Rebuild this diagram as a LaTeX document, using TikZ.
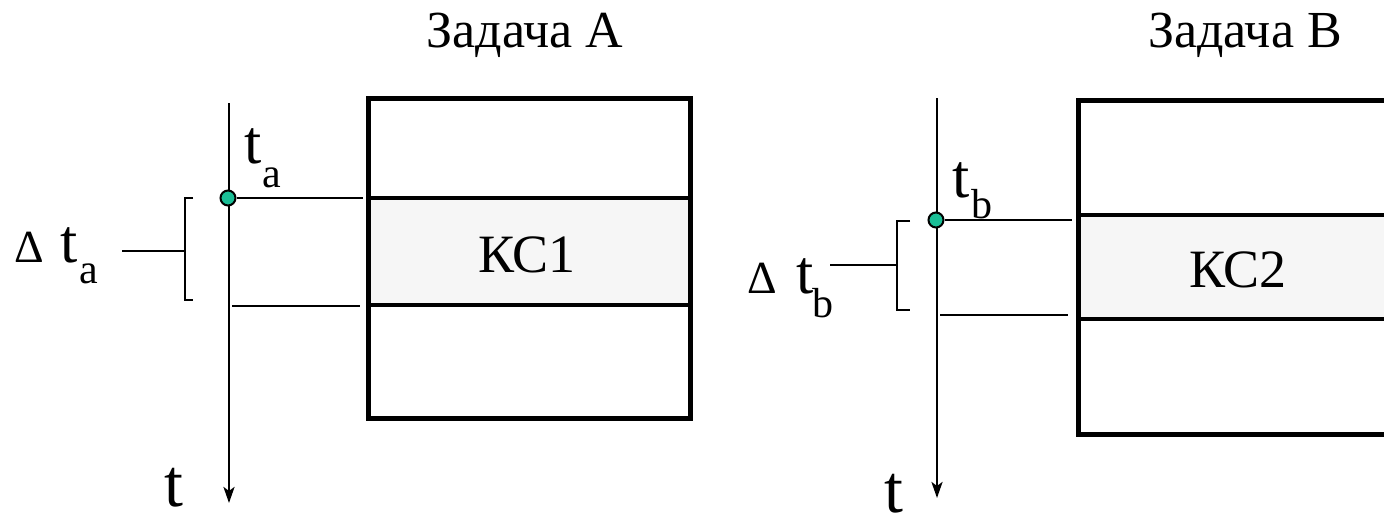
\documentclass[tikz,border=0pt]{standalone}
\usepackage{fontspec}
\setmainfont{Liberation Serif}
\newfontfamily\timesf{Liberation Serif}
\usetikzlibrary{arrows.meta}
\definecolor{dotgreen}{RGB}{26,190,150}
\definecolor{band}{RGB}{246,246,246}
\tikzset{
  thinline/.style={line width=2.6pt, black},
  axisline/.style={line width=2.6pt, black, -{Stealth[length=16pt,width=11pt,inset=4pt]}},
  boxframe/.style={line width=5pt, black},
  midline/.style={line width=3.5pt, black},
  tdot/.style={circle, fill=dotgreen, draw=black, line width=2pt, minimum size=15pt, inner sep=0pt},
  txt/.style={inner sep=0pt, anchor=base west},
  big/.style={txt, font=\timesf\fontsize{62}{62}\selectfont},
  sub/.style={txt, font=\timesf\fontsize{42}{42}\selectfont},
  delta/.style={txt, font=\timesf\fontsize{46}{46}\selectfont},
  title/.style={inner sep=0pt, anchor=base, font=\timesf\fontsize{52}{52}\selectfont},
  ks/.style={inner sep=0pt, anchor=base, font=\timesf\fontsize{54}{54}\selectfont},
  tlabel/.style={txt, font=\timesf\fontsize{68}{68}\selectfont},
}
\begin{document}
\begin{tikzpicture}[x=1pt,y=-1pt]
\useasboundingbox (0,0) rectangle (1384,520);
\clip (0,0) rectangle (1384,520);

% ---------- Task A ----------
\node[title] (titleA) at (525,47) {Задача А};
% box
\fill[band] (368,198) rectangle (690,305);
\draw[boxframe] (368,98) rectangle (690,418);
\draw[midline] (368,198) -- (690,198);
\draw[midline] (368,305) -- (690,305);
\node[ks] (ks1) at (527,272) {КС1};
% axis
\coordinate (aTop) at (229,103);
\coordinate (aBot) at (229,503);
\draw[axisline] (aTop) -- (aBot);
\node[tlabel] (tA) at (164,506) {t};
% lines
\node[tdot] (dotA) at (228,198) {};
\coordinate (aUpEnd) at (363,198);
\coordinate (aLowStart) at (232,306);
\coordinate (aLowEnd) at (360,306);
\draw[thinline] (dotA.east) -- (aUpEnd);
\draw[thinline] (aLowStart) -- (aLowEnd);
% bracket
\coordinate (brA1) at (193,198);
\coordinate (brA2) at (193,300);
\coordinate (brAm) at (185,251);
\coordinate (brAl) at (122,251);
\draw[line width=2pt, line join=miter] (brA1) -- (185,198) -- (185,300) -- (brA2);
\draw[line width=1.8pt] (brAm) -- (brAl);
% labels
\node[delta] (dA) at (14,262) {Δ};
\node[big] (dtA) at (60,262) {t};
\node[sub] (dtAs) at (79,283) {a};
\node[big] (taA) at (244,163) {t};
\node[sub] (taAs) at (262,187) {a};

% ---------- Task B ----------
\node[title] (titleB) at (1245,47) {Задача В};
\fill[band] (1078,215) rectangle (1400,319);
\draw[boxframe] (1078,100) rectangle (1400,434);
\draw[midline] (1078,215) -- (1400,215);
\draw[midline] (1078,319) -- (1400,319);
\node[ks] (ks2) at (1238,287) {КС2};
% axis
\coordinate (bTop) at (937,98);
\coordinate (bBot) at (937,498);
\draw[axisline] (bTop) -- (bBot);
\node[tlabel] (tB) at (884,512) {t};
% lines
\node[tdot] (dotB) at (936,220) {};
\coordinate (bUpEnd) at (1072,220);
\coordinate (bLowStart) at (940,315);
\coordinate (bLowEnd) at (1068,315);
\draw[thinline] (dotB.east) -- (bUpEnd);
\draw[thinline] (bLowStart) -- (bLowEnd);
% bracket
\coordinate (brB1) at (910,221);
\coordinate (brB2) at (910,310);
\coordinate (brBm) at (897,265);
\coordinate (brBl) at (830,265);
\draw[line width=2pt, line join=miter] (brB1) -- (897,221) -- (897,310) -- (brB2);
\draw[line width=1.8pt] (brBm) -- (brBl);
% labels
\node[delta] (dB) at (747,293) {Δ};
\node[big] (dtB) at (796,293) {t};
\node[sub] (dtBs) at (812,317) {b};
\node[big] (tbB) at (952,197) {t};
\node[sub] (tbBs) at (971,218) {b};
\end{tikzpicture}
\end{document}
